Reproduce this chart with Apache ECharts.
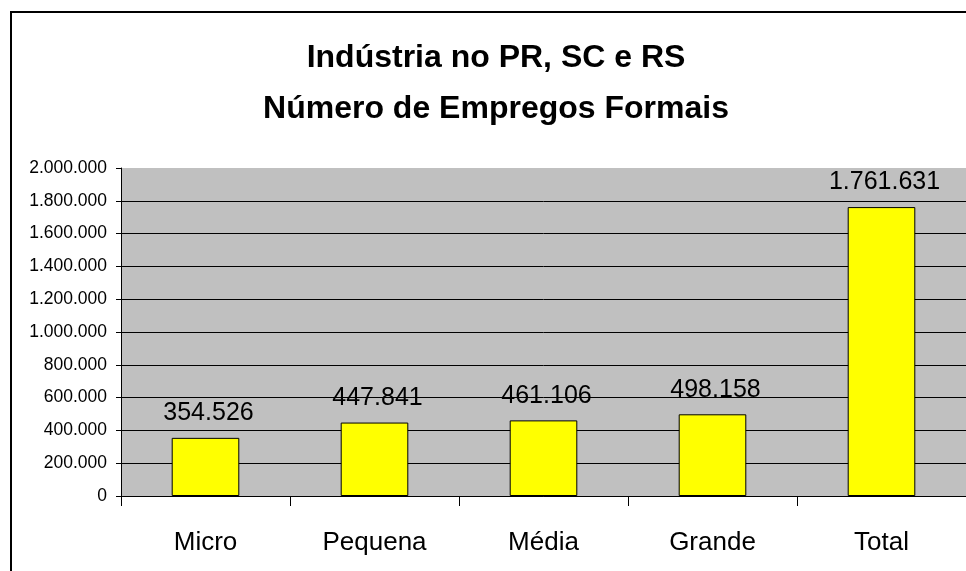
<!DOCTYPE html>
<html>
<head>
<meta charset="utf-8">
<script src="https://cdn.jsdelivr.net/npm/echarts@6/dist/echarts.min.js"></script>
<style>
html,body{margin:0;padding:0;background:#fff;}
#main{width:966px;height:571px;}
</style>
</head>
<body>
<div id="main"></div>
<script>
var categories = ['Micro', 'Pequena', 'Média', 'Grande', 'Total'];
var empregos = [354526, 447841, 461106, 498158, 1761631];
var yTicks = [0, 200000, 400000, 600000, 800000, 1000000, 1200000, 1400000, 1600000, 1800000, 2000000];

// formata com ponto de milhar (pt-BR)
function fmt(v){
    return String(v).replace(/\B(?=(\d{3})+(?!\d))/g, '.');
}

var myChart = echarts.init(document.getElementById('main'));
var option = {
    animation: false,
    textStyle: {fontFamily: 'Liberation Sans, Arial, sans-serif'},
    title: {
        text: 'Indústria no PR, SC e RS\nNúmero de Empregos Formais',
        left: 491,
        textAlign: 'center',
        top: 28,
        textStyle: {fontSize: 32, fontWeight: 'bold', color: '#000', lineHeight: 51}
    },
    graphic: [{
        type: 'rect',
        shape: {x: 11, y: 12, width: 990, height: 600},
        style: {fill: 'none', stroke: '#000', lineWidth: 2},
        z: -1
    }],
    grid: {
        left: 121, right: -4, top: 168, bottom: 75,
        show: true, backgroundColor: '#C0C0C0', borderWidth: 0
    },
    xAxis: {
        type: 'category',
        data: categories,
        axisLine: {lineStyle: {color: '#000', width: 1}},
        axisTick: {show: true, length: 10, lineStyle: {color: '#000'}},
        axisLabel: {fontSize: 26, color: '#000', margin: 34}
    },
    yAxis: {
        type: 'value',
        min: yTicks[0],
        max: yTicks[yTicks.length - 1],
        interval: 200000,
        axisLine: {show: true, lineStyle: {color: '#000', width: 1}},
        axisTick: {show: true, length: 5, lineStyle: {color: '#000'}},
        splitLine: {showMaxLine: false, lineStyle: {color: '#000', width: 1}},
        axisLabel: {fontSize: 17.5, color: '#000', margin: 14, formatter: fmt}
    },
    series: [{
        type: 'bar',
        data: empregos,
        barWidth: '40%',
        itemStyle: {color: '#FFFF00', borderColor: '#000', borderWidth: 1},
        label: {
            show: true, position: 'top', distance: 12, offset: [3, 0],
            fontSize: 25, color: '#000',
            formatter: function(p){ return fmt(p.value); }
        }
    }]
};
myChart.setOption(option);
</script>
</body>
</html>
